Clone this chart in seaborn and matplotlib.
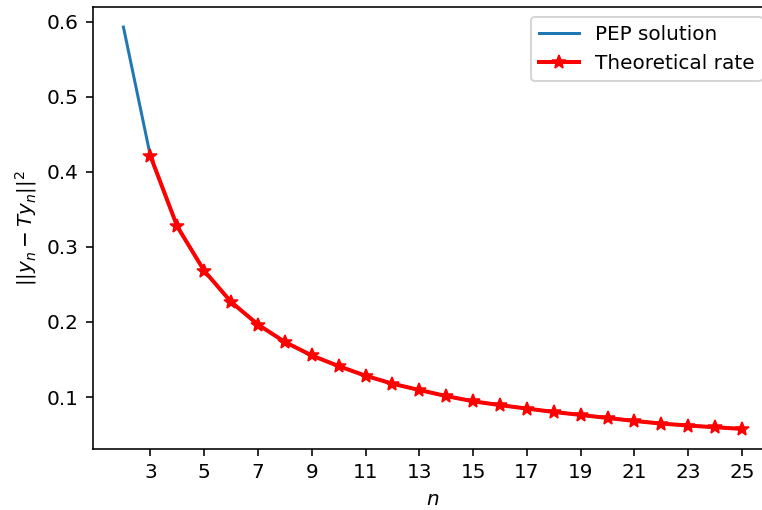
import matplotlib
matplotlib.use("Agg")
import matplotlib.pyplot as plt
import seaborn as sns
import pandas as pd

n_pep = [2, 3, 4, 5, 6, 7, 8, 9, 10, 11, 12, 13, 14, 15, 16, 17, 18, 19, 20, 21, 22, 23, 24, 25]
pep_vals = [0.593, 0.4216, 0.3273, 0.2684, 0.2268, 0.1966, 0.1734, 0.1554, 0.1412, 0.1284,
            0.1178, 0.1093, 0.1013, 0.0943, 0.0892, 0.0846, 0.0801, 0.0761, 0.0721, 0.0681,
            0.0646, 0.0620, 0.0597, 0.0575]
n_theory = n_pep[1:]
theory_vals = pep_vals[1:]
xticks = [3, 5, 7, 9, 11, 13, 15, 17, 19, 21, 23, 25]

df_pep = pd.DataFrame({"n": n_pep, "v": pep_vals})
df_th = pd.DataFrame({"n": n_theory, "v": theory_vals})

fig = plt.figure(figsize=(762 / 144, 510 / 144), dpi=144)
ax = fig.add_axes([92.5 / 762, 61 / 510, (773 - 92.5) / 762, 442 / 510])

sns.lineplot(data=df_pep, x="n", y="v", ax=ax, color="#1f77b4", linewidth=1.5,
             label="PEP solution", estimator=None)
sns.lineplot(data=df_th, x="n", y="v", ax=ax, color="red", linewidth=2, marker="*",
             markersize=7, markeredgecolor="red", label="Theoretical rate", estimator=None)

ax.set_xticks(xticks)
ax.set_xlabel("$n$")
ax.set_ylabel("$||y_n - Ty_n||^2$")
ax.legend(loc="upper right")

fig.savefig("out.png", dpi=144)
